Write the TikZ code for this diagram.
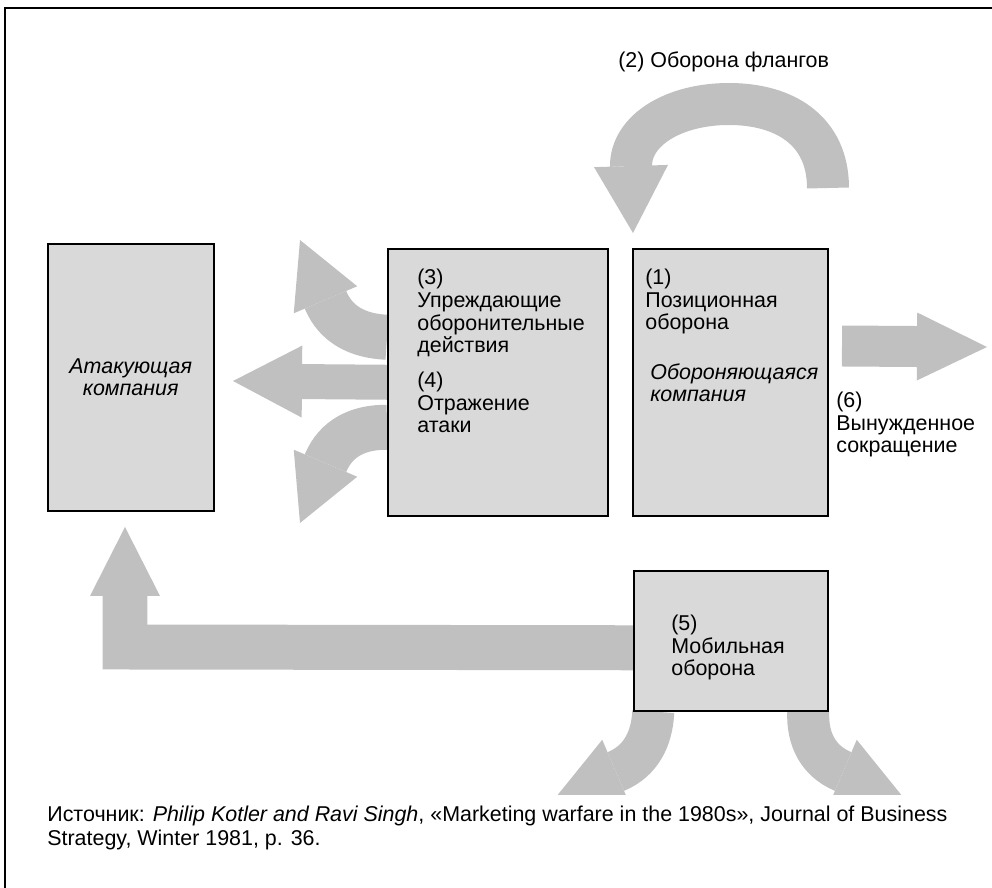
\documentclass[tikz,border=0pt]{standalone}
\usepackage{fontspec}
\setmainfont{Liberation Sans}
\usepackage{tikz}
\usetikzlibrary{arrows.meta}
\usetikzlibrary{backgrounds}
\usetikzlibrary{positioning}
\definecolor{boxgray}{HTML}{D9D9D9}
\definecolor{arrowgray}{HTML}{C0C0C0}
\tikzset{
    mybox/.style = {rectangle, draw=black, fill=boxgray, line width=0.9pt, anchor=north west, inner sep=0pt},
    mytext/.style = {anchor=base west, align=left, inner sep=0pt, font=\fontsize{12.2}{13}\selectfont},
    myital/.style = {mytext, font=\fontsize{12.2}{13}\selectfont\itshape},
    fatarrow/.style n args = {3}{draw=arrowgray, line width=#1, line join=miter, -{Triangle[width=#2, length=#3, line width=0pt]}},
}

\begin{document}
\begin{tikzpicture}[x=0.02cm, y=-0.02cm]
\useasboundingbox (0,0) rectangle (992,888);
\draw[line width=1.2pt] (5,888) -- (5,8) -- (992,8);
%
\node[mybox, minimum width=3.32cm, minimum height=5.34cm] (att) at (47,243) {};
\node[mybox, minimum width=4.4cm, minimum height=5.34cm] (pre) at (387,248) {};
\node[mybox, minimum width=3.9cm, minimum height=5.34cm] (pos) at (632,248) {};
\node[mybox, minimum width=3.88cm, minimum height=2.8cm] (mob) at (633,570) {};
%
% base = baseline of the last line
\node[myital, anchor=center, align=center] (tatt) at (att.center) {Атакующая\\компания};
\node[mytext] (t3) at (417,353) {(3)\\Упреждающие\\оборонительные\\действия};
\node[mytext] (t4) at (417,433) {(4)\\Отражение\\атаки};
\node[mytext] (t1) at (645,330) {(1)\\Позиционная\\оборона};
\node[myital] (tdef) at (650,402) {Обороняющаяся\\компания};
\node[mytext] (t5) at (671,676) {(5)\\Мобильная\\оборона};
\node[mytext] (t2) at (618,68) {(2) Оборона флангов};
\node[mytext] (t6) at (836,453) {(6)\\Вынужденное\\сокращение};
\node[mytext, font=\fontsize{12.2}{14}\selectfont] (src) at (47,846)
    {Источник: \textit{Philip Kotler and Ravi Singh}, «Marketing warfare in the 1980s», Journal of Business\\Strategy, Winter 1981, p. 36.};
%
\coordinate (s2) at (828,188);
\coordinate (tip2) at (633,233);
\coordinate (s6) at (842,346);
\coordinate (tip6) at (987,347);
\coordinate (tip4) at (233,381);
\coordinate (tip3a) at (300,240);
\coordinate (tip3b) at (300,523);
\coordinate (tipA) at (125,527);
\coordinate (tip5a) at (556,797);
\coordinate (tip5b) at (903,797);
%
\begin{scope}[on background layer]
\draw[fatarrow={0.84cm}{1.48cm}{1.34cm}] (s2) .. controls (828,130) and (784,104) .. (729,104)
    .. controls (674,104) and (631,130) .. (631,166) -- (tip2);
\draw[fatarrow={0.82cm}{1.36cm}{1.4cm}] (s6) -- (tip6);
\draw[fatarrow={0.7cm}{1.44cm}{1.38cm}] (pre.west) -- (tip4);
\draw[fatarrow={0.9cm}{1.38cm}{1.3cm}] ([yshift=0.9cm]pre.west) .. controls (357,336) and (336,324) .. (326,301) -- (tip3a);
\draw[fatarrow={0.9cm}{1.38cm}{1.3cm}] ([yshift=-0.9cm]pre.west) .. controls (357,427) and (336,439) .. (326,462) -- (tip3b);
\draw[fatarrow={0.9cm}{1.4cm}{1.38cm}] ([yshift=-0.14cm]mob.west) -- (125,647) -- (tipA);
\begin{scope}
\clip (0,0) rectangle (992,795);
\draw[fatarrow={0.84cm}{1.38cm}{1.3cm}] ([xshift=-1.55cm]mob.south) .. controls (652,740) and (640,761) .. (617,771) -- (tip5a);
\draw[fatarrow={0.84cm}{1.38cm}{1.3cm}] ([xshift=1.55cm]mob.south) .. controls (807,740) and (819,761) .. (842,771) -- (tip5b);
\end{scope}
\end{scope}
\end{tikzpicture}
\end{document}
